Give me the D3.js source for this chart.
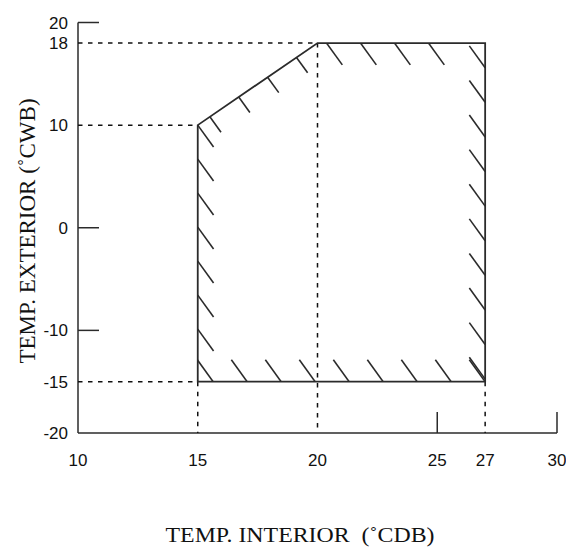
<!DOCTYPE html>
<html>
<head>
<meta charset="utf-8">
<script src="https://cdn.jsdelivr.net/npm/d3@7"></script>
<style>
  body { margin: 0; background: #fff; }
  svg { display: block; }
</style>
</head>
<body>
<svg id="chart" width="566" height="555"></svg>
<script>
// tick values
const xTicks = [10, 15, 20, 25, 27, 30];
const yTicks = [20, 18, 10, 0, -10, -15, -20];
const xSolidTicks = [25, 30];
const ySolidTicks = [20, 0, -10];

// operating envelope (interior CDB, exterior CWB)
const envelope = [[15, 10], [20, 18], [27, 18], [27, -15], [15, -15]];

// dashed guide lines: [x1, y1, x2, y2] in data units
const guides = [
    [10, 18, 20, 18],
    [10, 10, 15, 10],
    [10, -15, 15, -15],
    [20, 18, 20, -20],
    [15, -15, 15, -20],
    [27, -15, 27, -20]
];

const xLabel = "TEMP. INTERIOR\u00a0 (\u02daCDB)";
const yLabel = "TEMP. EXTERIOR (\u02daCWB)";

const svg = d3.select("#chart");
const ink = "#2b2b2b";

const x = d3.scaleLinear().domain([10, 30]).range([78, 557]);
const y = d3.scaleLinear().domain([-20, 20]).range([433, 22.5]);

// axes frame
svg.append("line")
    .attr("x1", x(10)).attr("x2", x(10))
    .attr("y1", y(20)).attr("y2", y(-20))
    .attr("stroke", ink).attr("stroke-width", 1.5);
svg.append("line")
    .attr("x1", x(10)).attr("x2", x(30))
    .attr("y1", y(-20)).attr("y2", y(-20))
    .attr("stroke", ink).attr("stroke-width", 1.5);

// solid ticks pointing inward
svg.selectAll(".ytick")
    .data(ySolidTicks)
    .enter()
    .append("line")
    .attr("class", "ytick")
    .attr("x1", x(10)).attr("x2", x(10) + 21)
    .attr("y1", d => y(d)).attr("y2", d => y(d))
    .attr("stroke", ink).attr("stroke-width", 1.5);

svg.selectAll(".xtick")
    .data(xSolidTicks)
    .enter()
    .append("line")
    .attr("class", "xtick")
    .attr("x1", d => x(d)).attr("x2", d => x(d))
    .attr("y1", y(-20)).attr("y2", y(-20) - 21)
    .attr("stroke", ink).attr("stroke-width", 1.5);

// dashed guides
svg.selectAll(".guide")
    .data(guides)
    .enter()
    .append("line")
    .attr("class", "guide")
    .attr("x1", d => x(d[0])).attr("y1", d => y(d[1]))
    .attr("x2", d => x(d[2])).attr("y2", d => y(d[3]))
    .attr("stroke", "#111")
    .attr("stroke-width", 1.5)
    .attr("stroke-dasharray", "4.5,5.5");

// envelope outline
const pts = envelope.map(d => [x(d[0]), y(d[1])]);
svg.append("polygon")
    .attr("points", pts.map(p => p.join(",")).join(" "))
    .attr("fill", "none")
    .attr("stroke", ink)
    .attr("stroke-width", 1.8)
    .attr("stroke-linejoin", "miter");

// hatching along each edge (px offsets along the edge)
// edge: [from vertex, to vertex, first offset, step, count, length, anchor at end of hatch]
const hatchEdges = [
    [0, 1, 14.7, 35, 4, 19, false],
    [1, 2, 9, 34, 4, 27, false],
    [2, 3, 24.7, 34.6, 10, 27, true],
    [3, 4, 0, 34, 9, 27, true]
];
const dir = [0.586, 0.81];
const hatches = [];
hatchEdges.forEach(([a, b, off, step, n, len, atEnd]) => {
    const p0 = pts[a], p1 = pts[b];
    const L = Math.hypot(p1[0] - p0[0], p1[1] - p0[1]);
    const u = [(p1[0] - p0[0]) / L, (p1[1] - p0[1]) / L];
    for (let i = 0; i < n; i++) {
        const s = off + i * step;
        const q = [p0[0] + u[0] * s, p0[1] + u[1] * s];
        if (atEnd) hatches.push([q[0] - dir[0] * len, q[1] - dir[1] * len, q[0], q[1]]);
        else hatches.push([q[0], q[1], q[0] + dir[0] * len, q[1] + dir[1] * len]);
    }
});
// left edge: from top corner downward
{
    const top = pts[0], bot = pts[4];
    for (let s = 0; top[1] + s < bot[1] - 25; s += 34) {
        hatches.push([top[0], top[1] + s, top[0] + dir[0] * 27, top[1] + s + dir[1] * 27]);
    }
}

svg.append("clipPath").attr("id", "env")
    .append("polygon")
    .attr("points", pts.map(p => p.join(",")).join(" "));

svg.append("g")
    .attr("clip-path", "url(#env)")
    .selectAll("line")
    .data(hatches)
    .enter()
    .append("line")
    .attr("x1", d => d[0]).attr("y1", d => d[1])
    .attr("x2", d => d[2]).attr("y2", d => d[3])
    .attr("stroke", ink)
    .attr("stroke-width", 1.6);

// tick labels
svg.selectAll(".ylab")
    .data(yTicks)
    .enter()
    .append("text")
    .attr("class", "ylab")
    .attr("x", 68)
    .attr("y", d => y(d))
    .attr("dy", "0.36em")
    .attr("text-anchor", "end")
    .attr("font-family", "Liberation Sans, Arial, sans-serif")
    .attr("font-size", 17)
    .attr("fill", "#111")
    .text(d => d);

svg.selectAll(".xlab")
    .data(xTicks)
    .enter()
    .append("text")
    .attr("class", "xlab")
    .attr("x", d => x(d))
    .attr("y", 466)
    .attr("text-anchor", "middle")
    .attr("font-family", "Liberation Sans, Arial, sans-serif")
    .attr("font-size", 17)
    .attr("fill", "#111")
    .text(d => d);

// axis titles
svg.append("text")
    .attr("x", 300)
    .attr("y", 542)
    .attr("text-anchor", "middle")
    .attr("font-family", "Liberation Serif, Times New Roman, serif")
    .attr("font-size", 21)
    .attr("textLength", 269)
    .attr("lengthAdjust", "spacingAndGlyphs")
    .attr("fill", "#111")
    .text(xLabel);

svg.append("text")
    .attr("transform", "translate(35,231) rotate(-90)")
    .attr("text-anchor", "middle")
    .attr("font-family", "Liberation Serif, Times New Roman, serif")
    .attr("font-size", 23)
    .attr("fill", "#111")
    .text(yLabel);
</script>
</body>
</html>
